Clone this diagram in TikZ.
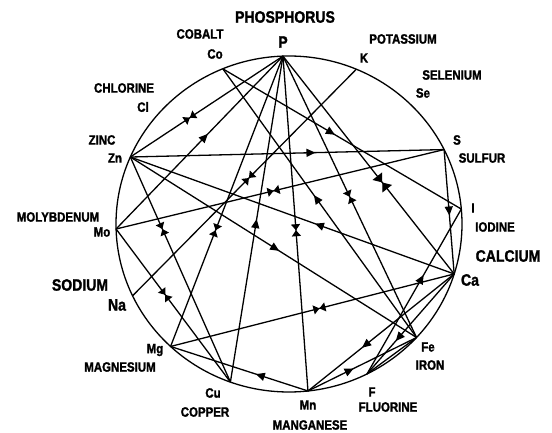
\documentclass[tikz,border=0pt]{standalone}
\usepackage{fontspec}
\newfontfamily\labfont{Liberation Sans}[FakeStretch=0.85,BoldFeatures={FakeBold=1.5}]
\usetikzlibrary{arrows.meta,decorations.markings}
\begin{document}
\begin{tikzpicture}[x=1pt,y=1pt,
  wire/.style={line width=1.3pt},
  rim/.style={line width=1.3pt},
  arr/.style={postaction={decorate,decoration={markings,mark=at position #1 with {\arrow{Triangle[length=9pt,width=8pt]}}}}},
  bow/.style={postaction={decorate,decoration={markings,mark=at position #1 with {\arrow{Triangle[length=6pt,width=9pt]}\arrowreversed{Triangle[length=6pt,width=9pt]}}}}},
  bigbow/.style={postaction={decorate,decoration={markings,mark=at position #1 with {\arrow{Triangle[length=8pt,width=12pt]}\arrowreversed{Triangle[length=8pt,width=12pt]}}}}},
  lab/.style={inner sep=0pt,font=\labfont\bfseries\fontsize{13.5}{14}\selectfont},
  biglab/.style={inner sep=0pt,font=\labfont\bfseries\fontsize{16.5}{17}\selectfont}]
\useasboundingbox (0,0) rectangle (552,432);
\fill[white] (0,0) rectangle (552,432);
% circle
\draw[rim] (289,208) ellipse [x radius=173, y radius=168];
% points on the circle
\path (289,208) ++(92:173 and 168) coordinate (P);
\path (289,208) ++(112.5:173 and 168) coordinate (Co);
\path (289,208) ++(67.1:173 and 168) coordinate (K);
\path (289,208) ++(26.3:173 and 168) coordinate (S);
\path (289,208) ++(5.1:173 and 168) coordinate (I);
\path (289,208) ++(-17.3:173 and 168) coordinate (Ca);
\path (289,208) ++(-42.5:173 and 168) coordinate (Fe);
\path (289,208) ++(-63.2:173 and 168) coordinate (F);
\path (289,208) ++(-83.7:173 and 168) coordinate (Mn);
\path (289,208) ++(-109.8:173 and 168) coordinate (Cu);
\path (289,208) ++(-133.2:173 and 168) coordinate (Mg);
\path (289,208) ++(205.3:173 and 168) coordinate (Na);
\path (289,208) ++(181.7:173 and 168) coordinate (Mo);
\path (289,208) ++(156.5:173 and 168) coordinate (Zn);
% connectors
\draw[wire,bow=0.61] (P) -- (Zn);
\draw[wire,arr=0.55] (Mo) -- (P);
\draw[wire,bow=0.60] (P) -- (Mg);
\draw[wire,arr=0.50] (Cu) -- (P);
\draw[wire,bow=0.52] (P) -- (Mn);
\draw[wire,bow=0.50] (P) -- (Fe);
\draw[wire,bigbow=0.58] (P) -- (Ca);
\draw[wire,arr=0.47] (Co) -- (I);
\draw[wire,arr=0.53] (Fe) -- (Co);
\draw[wire,bow=0.48] (K) -- (Na);
\draw[wire,arr=0.59] (Zn) -- (S);
\draw[wire,arr=0.43] (Ca) -- (Zn);
\draw[wire,arr=0.52] (Zn) -- (Fe);
\draw[wire,bow=0.32] (Zn) -- (Cu);
\draw[wire,bow=0.48] (Mo) -- (S);
\draw[wire,bow=0.43] (Mo) -- (Cu);
\draw[wire,arr=0.53] (S) -- (Ca);
\draw[wire,arr=0.60] (F) -- (I);
\draw[wire,bow=0.525] (Mg) -- (Ca);
\draw[wire,arr=0.38] (Mn) -- (Mg);
\draw[wire,arr=0.63] (Ca) -- (Mn);
\draw[wire,arr=0.42] (Mn) -- (Fe);
\draw[wire,arr=0.67] (Ca) -- (F);
\draw[wire] (F) -- (Fe);
% labels
\node[biglab] (tP1) at (285,415) {PHOSPHORUS};
\node[biglab] (tP2) at (283,390) {P};
\node[lab] (tCo1) at (200,398) {COBALT};
\node[lab] (tCo2) at (215,378) {Co};
\node[lab] (tK1) at (403,393) {POTASSIUM};
\node[lab] (tK2) at (364,374) {K};
\node[lab] (tSe1) at (452,357) {SELENIUM};
\node[lab] (tSe2) at (423,339) {Se};
\node[lab] (tS2) at (457,292) {S};
\node[lab] (tS1) at (482,274) {SULFUR};
\node[lab] (tI2) at (473,224) {I};
\node[lab] (tI1) at (495,205) {IODINE};
\node[biglab] (tCa1) at (508,176) {CALCIUM};
\node[biglab] (tCa2) at (470,152) {Ca};
\node[lab] (tFe2) at (428,85) {Fe};
\node[lab] (tFe1) at (430,67) {IRON};
\node[lab] (tF2) at (372,40) {F};
\node[lab] (tF1) at (388,25) {FLUORINE};
\node[lab] (tMn2) at (308,27) {Mn};
\node[lab] (tMn1) at (310,7) {MANGANESE};
\node[lab] (tCu2) at (213,39) {Cu};
\node[lab] (tCu1) at (205,20) {COPPER};
\node[lab] (tMg2) at (155,82) {Mg};
\node[lab] (tMg1) at (120,65) {MAGNESIUM};
\node[biglab] (tNa1) at (80,147) {SODIUM};
\node[biglab] (tNa2) at (117,127) {Na};
\node[lab] (tMo1) at (58,215) {MOLYBDENUM};
\node[lab] (tMo2) at (102,200) {Mo};
\node[lab] (tZn1) at (102,292) {ZINC};
\node[lab] (tZn2) at (115,274) {Zn};
\node[lab] (tCl1) at (124,344) {CHLORINE};
\node[lab] (tCl2) at (143,325) {Cl};
\end{tikzpicture}
\end{document}
